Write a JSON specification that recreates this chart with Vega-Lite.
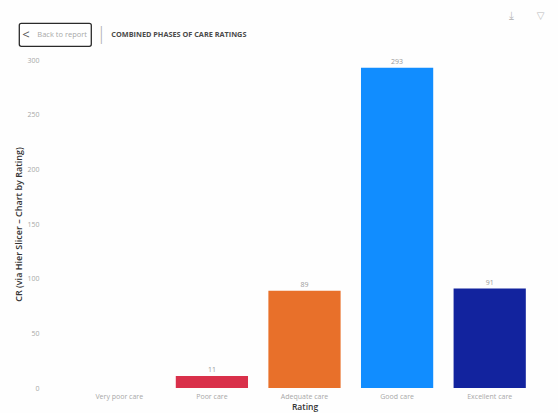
{
  "$schema": "https://vega.github.io/schema/vega-lite/v6.json",
  "width": 463,
  "height": 328,
  "autosize": {"type": "none"},
  "padding": {"left": 73, "top": 60, "right": 22, "bottom": 25},
  "background": "#fefefe",
  "view": {"stroke": null},
  "config": {"font": "Open Sans"},
  "data": {
    "values": [
      {"rating": "Very poor care", "count": null, "label": ""},
      {"rating": "Poor care", "count": 11, "label": "11"},
      {"rating": "Adequate care", "count": 89, "label": "89"},
      {"rating": "Good care", "count": 293, "label": "293"},
      {"rating": "Excellent care", "count": 91, "label": "91"}
    ]
  },
  "encoding": {
    "x": {
      "field": "rating",
      "type": "nominal",
      "sort": ["Very poor care", "Poor care", "Adequate care", "Good care", "Excellent care"],
      "scale": {"paddingInner": 0.22, "paddingOuter": 0.11},
      "axis": {
        "title": "Rating",
        "titleFontSize": 8.5,
        "titleFontWeight": 600,
        "titleColor": "#333333",
        "titlePadding": 3,
        "labelAngle": 0,
        "labelFontSize": 7,
        "labelColor": "#a8a8a8",
        "labelPadding": 4,
        "domain": false,
        "ticks": false,
        "grid": false
      }
    }
  },
  "layer": [
    {
      "mark": {"type": "bar"},
      "encoding": {
        "y": {
          "field": "count",
          "type": "quantitative",
          "scale": {"domain": [0, 300], "nice": false},
          "axis": {
            "title": "CR (via Hier Slicer – Chart by Rating)",
            "titleFontSize": 9,
            "titleFontWeight": 600,
            "titleColor": "#333333",
            "titlePadding": 3,
            "values": [0, 50, 100, 150, 200, 250, 300],
            "labelFontSize": 7,
            "labelColor": "#a8a8a8",
            "labelPadding": 34,
            "domain": false,
            "ticks": false,
            "grid": false
          }
        },
        "color": {
          "field": "rating",
          "type": "nominal",
          "legend": null,
          "scale": {
            "domain": ["Very poor care", "Poor care", "Adequate care", "Good care", "Excellent care"],
            "range": ["#a80000", "#d9304a", "#e8702a", "#118dff", "#12239e"]
          }
        }
      }
    },
    {
      "mark": {"type": "text", "baseline": "bottom", "dy": -3, "fontSize": 7, "color": "#9a9a9a"},
      "encoding": {
        "y": {"field": "count", "type": "quantitative"},
        "text": {"field": "label"}
      }
    },
    {
      "data": {"values": [{"note": "Back to report", "heading": "COMBINED PHASES OF CARE RATINGS"}]},
      "layer": [
        {
          "mark": {"type": "rect", "width": 72, "height": 23, "xOffset": -64, "fill": "#ffffff", "stroke": "#2b2b2b", "strokeWidth": 1.3, "cornerRadius": 2},
          "encoding": {"x": {"datum": "Very poor care"}, "y": {"datum": 323}}
        },
        {
          "mark": {"type": "text", "align": "left", "baseline": "middle", "dx": -82, "fontSize": 7.5, "color": "#a8a8a8"},
          "encoding": {"x": {"datum": "Very poor care"}, "y": {"datum": 323}, "text": {"field": "note"}}
        },
        {
          "mark": {"type": "text", "text": "<", "align": "left", "baseline": "middle", "dx": -97, "fontSize": 13, "color": "#555555"},
          "encoding": {"x": {"datum": "Very poor care"}, "y": {"datum": 323}}
        },
        {
          "mark": {"type": "text", "text": "|", "align": "center", "baseline": "middle", "dx": -18, "fontSize": 18, "fontWeight": 200, "color": "#aaaaaa"},
          "encoding": {"x": {"datum": "Very poor care"}, "y": {"datum": 323}}
        },
        {
          "mark": {"type": "text", "align": "left", "baseline": "middle", "dx": -8, "fontSize": 7.3, "fontWeight": "bold", "color": "#4a4a4a"},
          "encoding": {"x": {"datum": "Very poor care"}, "y": {"datum": 323}, "text": {"field": "heading"}}
        },
        {
          "mark": {"type": "text", "text": "⤓", "align": "center", "baseline": "middle", "dx": 22, "fontSize": 11, "font": "DejaVu Sans", "color": "#bbbbbb"},
          "encoding": {"x": {"datum": "Excellent care"}, "y": {"datum": 340}}
        },
        {
          "mark": {"type": "text", "text": "▽", "align": "center", "baseline": "middle", "dx": 51, "fontSize": 10, "font": "DejaVu Sans", "color": "#bbbbbb"},
          "encoding": {"x": {"datum": "Excellent care"}, "y": {"datum": 340}}
        }
      ]
    }
  ]
}
